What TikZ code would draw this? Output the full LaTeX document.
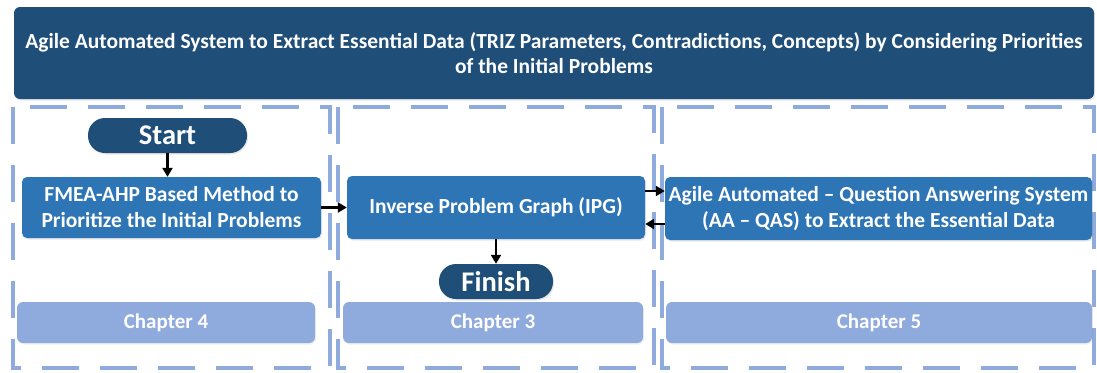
\documentclass[tikz,border=0pt]{standalone}
\usepackage{fontspec}
\setmainfont{Carlito}
\usetikzlibrary{arrows.meta,shadows}
\definecolor{darkblue}{HTML}{1F4E79}
\definecolor{midblue}{HTML}{2E75B6}
\definecolor{lightblue}{HTML}{8FAADC}
\tikzset{
  colframe/.style={draw=lightblue, line width=4pt, dash pattern=on 37pt off 21pt},
  mainbox/.style={fill=midblue, rounded corners=5pt, text=white, font=\bfseries\fontsize{21.5}{26}\selectfont, align=center, inner sep=0pt,
     drop shadow={opacity=0.18, shadow xshift=1pt, shadow yshift=-1.5pt}},
  chapbox/.style={fill=lightblue, rounded corners=6pt, text=white, font=\bfseries\fontsize{21}{24}\selectfont, inner sep=0pt,
     drop shadow={opacity=0.12, shadow xshift=1pt, shadow yshift=-1.5pt}},
  pill/.style={fill=darkblue, rounded corners=17pt, text=white, font=\bfseries\fontsize{28.5}{30}\selectfont, inner sep=0pt,
     drop shadow={opacity=0.18, shadow xshift=1pt, shadow yshift=-1.5pt}},
  arr/.style={-{Triangle[length=9pt,width=10pt]}, line width=2.4pt, black},
}
\begin{document}
\begin{tikzpicture}[x=1pt,y=-1pt]
\useasboundingbox (0,0) rectangle (1097,372);
% title
\node[fill=darkblue, rounded corners=6pt, minimum width=1080pt, minimum height=92pt, text=white,
  font=\bfseries\fontsize{21.5}{25}\selectfont, align=center, inner sep=0pt,
  drop shadow={opacity=0.18, shadow xshift=1pt, shadow yshift=-1.5pt}] (title) at (554,53)
  {Agile Automated System to Extract Essential Data (TRIZ Parameters, Contradictions, Concepts) by Considering Priorities\\ of the Initial Problems};
% column frames
\draw[colframe] (13,107) rectangle (330,368);
\draw[colframe] (338,107) rectangle (654,368);
\draw[colframe] (662,107) rectangle (1094,368);
% boxes
\node[pill, minimum width=159pt, minimum height=35pt] (start) at (167.5,135.5) {Start};
\node[mainbox, minimum width=299pt, minimum height=61pt] (fmea) at (171.5,207.5) {FMEA-AHP Based Method to\\Prioritize the Initial Problems};
\node[mainbox, minimum width=298pt, minimum height=63pt] (ipg) at (496,207.5) {Inverse Problem Graph (IPG)};
\node[mainbox, minimum width=427pt, minimum height=63pt] (aqas) at (878.5,208.5) {Agile Automated -- Question Answering System\\(AA -- QAS) to Extract the Essential Data};
\node[pill, minimum width=114pt, minimum height=35pt] (finish) at (496,281.5) {Finish};
\node[chapbox, minimum width=298pt, minimum height=41pt] (ch4) at (166,322.5) {Chapter 4};
\node[chapbox, minimum width=300pt, minimum height=41pt] (ch3) at (493,322.5) {Chapter 3};
\node[chapbox, minimum width=426pt, minimum height=41pt] (ch5) at (879,322.5) {Chapter 5};
% arrow anchor coordinates
\coordinate (hiY) at (0,191);
\coordinate (loY) at (0,224);
% arrows
\draw[arr] (start.south) -- (start.south |- fmea.north);
\draw[arr] (fmea.east) -- (fmea.east -| ipg.west);
\draw[arr] (ipg.east |- hiY) -- (aqas.west |- hiY);
\draw[arr] (aqas.west |- loY) -- (ipg.east |- loY);
\draw[arr] (ipg.south) -- (finish.north);
\end{tikzpicture}
\end{document}
